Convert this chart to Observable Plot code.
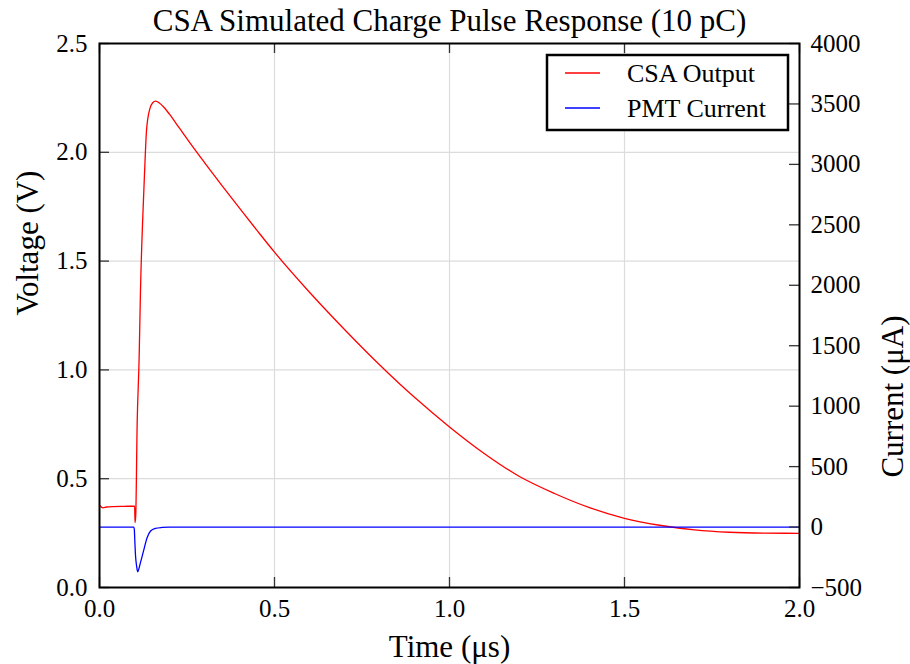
<!DOCTYPE html>
<html><head><meta charset="utf-8">
<script src="https://cdn.jsdelivr.net/npm/d3@7"></script>
<script src="https://cdn.jsdelivr.net/npm/@observablehq/plot@0.6"></script>
<style>body{margin:0;background:#fff}</style>
</head><body><div id="chart"></div>
<script>
// ---- data ----
const csaTime = [0, 0.01, 0.02, 0.04, 0.07, 0.0995, 0.1005, 0.1015, 0.1035, 0.1076, 0.1133, 0.1171, 0.1229, 0.1286, 0.1343, 0.1438, 0.152, 0.16, 0.17, 0.184, 0.2, 0.22, 0.24, 0.26, 0.3, 0.35, 0.4, 0.45, 0.5, 0.6, 0.7, 0.8, 0.9, 1.0, 1.1, 1.2, 1.3, 1.4, 1.5, 1.6, 1.7, 1.8, 1.9, 2.0];
const csaVolt = [0.378, 0.366, 0.370, 0.372, 0.373, 0.374, 0.374, 0.298, 0.33, 0.752, 1.058, 1.365, 1.671, 1.901, 2.100, 2.200, 2.228, 2.235, 2.228, 2.207, 2.175, 2.13, 2.085, 2.04, 1.953, 1.847, 1.743, 1.641, 1.541, 1.357, 1.186, 1.024, 0.874, 0.738, 0.615, 0.51, 0.432, 0.367, 0.318, 0.286, 0.265, 0.254, 0.250, 0.249];
const pmtTime = [0, 0.098, 0.0995, 0.101, 0.103, 0.106, 0.109, 0.112, 0.117, 0.122, 0.127, 0.136, 0.146, 0.160, 0.179, 0.2, 2.0];
const pmtCurrent = [0, 0, -20, -120, -240, -322, -370, -350, -294, -240, -184, -88, -33, -11, -3, 0, 0];
const timeTicks = [0, 0.5, 1.0, 1.5, 2.0];
const voltTicks = [0, 0.5, 1.0, 1.5, 2.0, 2.5];
const currentTicks = [-500, 0, 500, 1000, 1500, 2000, 2500, 3000, 3500, 4000];
const seriesNames = ["CSA Output", "PMT Current"];
const seriesColors = ["red", "blue"];
const titleText = "CSA Simulated Charge Pulse Response (10 pC)";
const xLabel = "Time (μs)";
const yLabel = "Voltage (V)";
const y2Label = "Current (μA)";

// ---- secondary axis mapping (current -> voltage scale) ----
const vMin = 0, vMax = 2.5, cMin = -500, cMax = 4000;
const curToV = c => vMin + (c - cMin) * (vMax - vMin) / (cMax - cMin);

const csa = csaTime.map((t, i) => ({t, v: csaVolt[i]}));
const pmt = pmtTime.map((t, i) => ({t, c: pmtCurrent[i]}));

const W = 910, H = 664, mL = 99, mR = 111, mT = 43, mB = 77;
const fw = W - mL - mR, fh = H - mT - mB;
const font = "'Liberation Serif', 'Times New Roman', serif";
const tickLen = 10;
const fmtMinus = d => (d < 0 ? "\u2212" + Math.abs(d) : String(d));

const chart = Plot.plot({
  width: W, height: H,
  marginLeft: mL, marginRight: mR, marginTop: mT, marginBottom: mB,
  style: {fontFamily: font, fontSize: "25px", color: "black", background: "white"},
  x: {domain: [0, 2.0]},
  y: {domain: [vMin, vMax]},
  marks: [
    Plot.gridX(timeTicks.slice(1, -1), {stroke: "#dcdcdc", strokeOpacity: 1, strokeWidth: 1.2}),
    Plot.gridY(voltTicks.slice(1, -1), {stroke: "#dcdcdc", strokeOpacity: 1, strokeWidth: 1.2}),
    Plot.line(csa, {x: "t", y: "v", stroke: seriesColors[0], strokeWidth: 1.3, curve: "monotone-x"}),
    Plot.line(pmt, {x: "t", y: d => curToV(d.c), stroke: seriesColors[1], strokeWidth: 1.3, curve: "monotone-x"}),
    // inward ticks
    Plot.tickY(voltTicks, {y: d => d, insetRight: fw - tickLen, stroke: "#333", strokeWidth: 1.3}),
    Plot.tickY(currentTicks, {y: d => curToV(d), insetLeft: fw - tickLen, stroke: "#333", strokeWidth: 1.3}),
    Plot.tickX(timeTicks, {x: d => d, insetTop: fh - tickLen, stroke: "#333", strokeWidth: 1.3}),
    Plot.tickX(timeTicks, {x: d => d, insetBottom: fh - tickLen, stroke: "#333", strokeWidth: 1.3}),
    Plot.frame({stroke: "black", strokeWidth: 2}),
    // tick labels
    Plot.axisX({ticks: timeTicks, tickSize: 0, tickPadding: 12, tickFormat: d3.format(".1f"), label: null, fontSize: 25}),
    Plot.axisY({ticks: voltTicks, tickSize: 0, tickPadding: 12, tickFormat: d3.format(".1f"), label: null, fontSize: 25}),
    Plot.axisY({anchor: "right", ticks: currentTicks.map(curToV), tickSize: 0, tickPadding: 11,
      tickFormat: v => fmtMinus(Math.round(cMin + (v - vMin) * (cMax - cMin) / (vMax - vMin))), label: null, fontSize: 25}),
    // titles
    Plot.text([titleText], {text: d => d, frameAnchor: "top", lineAnchor: "middle", dy: -22, fontSize: 31}),
    Plot.text([xLabel], {text: d => d, frameAnchor: "bottom", lineAnchor: "middle", dy: 60, fontSize: 31}),
    Plot.text([yLabel], {text: d => d, frameAnchor: "left", lineAnchor: "middle", dx: -71, rotate: -90, fontSize: 31}),
    Plot.text([y2Label], {text: d => d, frameAnchor: "right", lineAnchor: "middle", dx: 94, rotate: -90, fontSize: 31})
  ]
});

// legend
const svg = d3.select(chart);
const lg = svg.append("g").attr("font-family", font).attr("font-size", 26).attr("text-anchor", "start");
lg.append("rect").attr("x", 547).attr("y", 55).attr("width", 241).attr("height", 75)
  .attr("fill", "white").attr("stroke", "black").attr("stroke-width", 2.5);
seriesNames.forEach((name, i) => {
  const y = 73 + i * 35;
  lg.append("line").attr("x1", 565).attr("x2", 600).attr("y1", y).attr("y2", y)
    .attr("stroke", seriesColors[i]).attr("stroke-width", 1.3);
  lg.append("text").attr("x", 627).attr("y", y).attr("dy", "0.35em").attr("fill", "black").text(name);
});

document.getElementById("chart").appendChild(chart);
</script>
</body></html>
